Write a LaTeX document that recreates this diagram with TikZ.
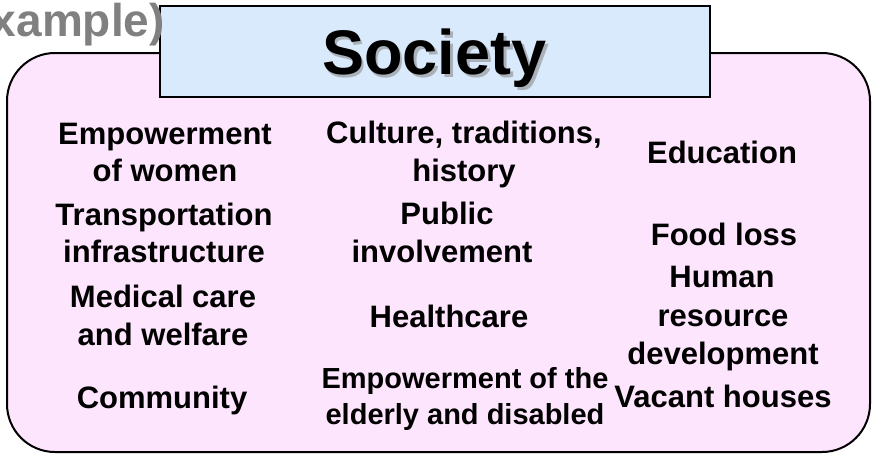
\documentclass[tikz,border=0pt]{standalone}
\usepackage{fontspec}
\setmainfont{Liberation Sans}
\definecolor{pinkfill}{RGB}{253,229,253}
\definecolor{bluefill}{RGB}{217,234,252}
\definecolor{graytxt}{RGB}{128,128,128}
\tikzset{
  item/.style={anchor=base, inner sep=0pt, font=\bfseries\fontsize{31}{37}\selectfont},
  itemsmall/.style={anchor=base, inner sep=0pt, font=\bfseries\fontsize{29}{35}\selectfont},
  mainbox/.style={draw=black, line width=2pt, fill=pinkfill, rounded corners=48pt},
  titlebox/.style={draw=black, line width=1.6pt, fill=bluefill},
}
\begin{document}
\begin{tikzpicture}[x=1pt,y=-1pt]
\useasboundingbox (0,0) rectangle (875,455);
\clip (0,0) rectangle (875,455);
\draw[mainbox] (7,53) rectangle (870,452);
\draw[titlebox] (160,6) rectangle (710,97);
% title with shadow
\node[anchor=base, inner sep=0pt, text=black!45, opacity=0.6, font=\bfseries\fontsize{63}{70}\selectfont] (tshadow) at (437,77) {Society};
\node[anchor=base, inner sep=0pt, font=\bfseries\fontsize{63}{70}\selectfont] (title) at (434.5,74) {Society};
% example label (cut at the left edge)
\node[anchor=base east, inner sep=0pt, text=graytxt, font=\bfseries\fontsize{46}{52}\selectfont] (example) at (165,36) {(Example)};
% column 1
\node[item] (c1a) at (165,144) {Empowerment};
\node[item] (c1b) at (165,181) {of women};
\node[item] (c1c) at (164,225) {Transportation};
\node[item] (c1d) at (164,262) {infrastructure};
\node[item] (c1e) at (163,307) {Medical care};
\node[item] (c1f) at (163,345) {and welfare};
\node[item] (c1g) at (162,408) {Community};
% column 2
\node[item] (c2a) at (464,143) {Culture, traditions,};
\node[item] (c2b) at (464,181) {history};
\node[item] (c2c) at (447,224) {Public};
\node[item] (c2d) at (442,262) {involvement};
\node[item] (c2e) at (449,327) {Healthcare};
\node[itemsmall] (c2f) at (465,388) {Empowerment of the};
\node[itemsmall] (c2g) at (465,424) {elderly and disabled};
% column 3
\node[item] (c3a) at (722,163) {Education};
\node[item] (c3b) at (724,245) {Food loss};
\node[item] (c3c) at (722,287) {Human};
\node[item] (c3d) at (723,326) {resource};
\node[item] (c3e) at (723,364) {development};
\node[item] (c3f) at (723,407) {Vacant houses};
\end{tikzpicture}
\end{document}
